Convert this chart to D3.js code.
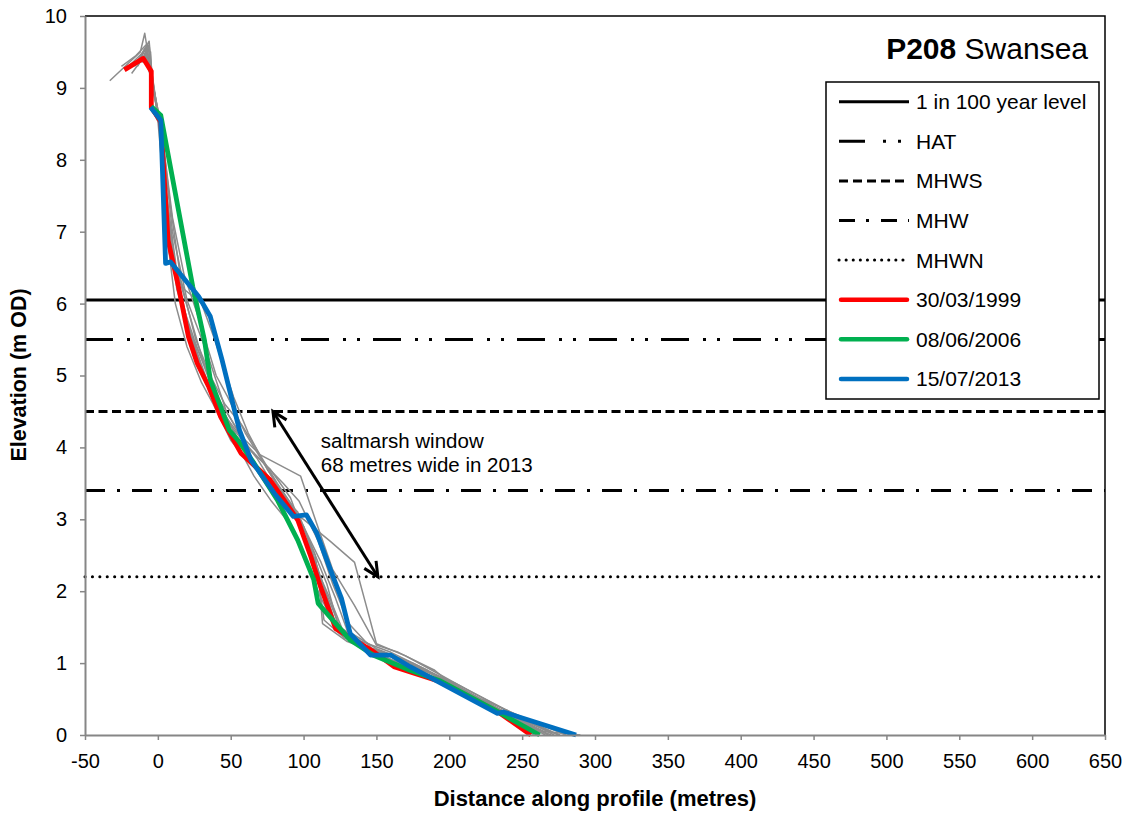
<!DOCTYPE html>
<html><head><meta charset="utf-8">
<script src="https://cdn.jsdelivr.net/npm/d3@7"></script>
<style>body{margin:0;background:#fff}svg{display:block}text{font-family:"Liberation Sans",Arial,sans-serif}</style>
</head><body><svg id="c" width="1128" height="814"></svg>
<script>
const xTicks = [-50,0,50,100,150,200,250,300,350,400,450,500,550,600,650];
const yTicks = [0,1,2,3,4,5,6,7,8,9,10];

const levelNames = ["1 in 100 year level","HAT","MHWS","MHW","MHWN"];
const levelValues = [6.05,5.5,4.5,3.4,2.2];

const surveyNames = ["30/03/1999","08/06/2006","15/07/2013"];
const dist1999 = [-23,-10,-4.5,-4.5,2,7,14,21,27,35,43,57,77,96,105,110,122,148,162,194,235,256];
const elev1999 = [9.25,9.41,9.23,8.73,8.53,6.88,6.25,5.54,5.17,4.84,4.43,3.92,3.55,2.99,2.48,2.16,1.48,1.16,0.95,0.74,0.30,0];
const dist2006 = [-4.5,2,24,32,36,43,49,55,66,82,96,107,110,132,148,173,194,231,262];
const elev2006 = [8.74,8.62,6.23,5.49,4.94,4.57,4.24,4.10,3.78,3.27,2.71,2.16,1.83,1.32,1.11,0.90,0.75,0.35,0];
const dist2013 = [-5,2,5.3,8.7,28,36,44,56,64,80,93,102,109,121,126,132,146,160,173,233,237,262,287];
const elev2013 = [8.73,8.55,6.56,6.58,6.1,5.82,5.22,4.24,3.82,3.36,3.04,3.06,2.81,2.16,1.9,1.41,1.11,1.11,0.95,0.30,0.32,0.16,0];

const greyDist = [
  [-33,-12,-9,-5,-4,1,6,12,20,30,38,50,62,80,100,110,113,130,150,180,210,240,262],
  [-25,-15,-8,-5,-4,1,8,15,25,35,42,55,70,84,98,108,120,135,150,165,190,205,225,245,270],
  [-20,-10,-5,-4,2,10,18,28,40,48,60,75,90,105,115,125,140,160,185,200,220,245,275],
  [-15,-8,-5,-4,1,6,14,22,34,45,58,72,85,95,105,118,128,145,165,190,215,240,265,290],
  [-12,-7,-4,0,8,18,30,39,52,62,75,88,100,112,122,130,150,175,200,228,258],
  [-10,-6,-4,1,5,12,20,32,44,55,68,84,100,118,135,143,150,170,190,215,245,272],
  [-14,-8,-4,2,9,16,26,36,46,58,70,82,92,104,116,124,138,160,188,212,236,266],
  [-18,-9,-4,1,7,13,22,33,42,54,66,78,90,102,112,120,132,155,185,205,235,268],
  [-8,-5,-4,1,4,11,21,31,41,53,64,77,91,103,114,122,136,162,192,222,250,280],
  [-16,-9,-4,1,6,15,24,36,44,56,68,80,96,108,114,128,150,178,210,244,276],
  [-11,-6,-4,2,10,20,34,47,60,74,86,97,110,120,131,147,172,204,238,270]
];
const greyElev = [
  [9.1,9.5,9.76,9.25,8.7,8.55,7.0,6.0,5.4,4.9,4.6,4.1,3.8,3.45,2.9,2.3,1.55,1.3,1.15,0.85,0.55,0.22,0],
  [9.3,9.45,9.6,9.2,8.7,8.5,7.0,6.1,5.5,4.95,4.55,4.2,3.9,3.75,3.6,3.0,2.3,1.8,1.25,1.15,0.9,0.65,0.45,0.2,0],
  [9.3,9.5,9.3,8.7,8.5,7.2,6.4,5.8,5.0,4.7,4.2,3.7,3.2,2.6,2.0,1.5,1.3,1.15,0.9,0.7,0.5,0.25,0],
  [9.35,9.55,9.2,8.7,8.5,7.5,6.3,5.6,4.85,4.5,4.0,3.6,3.4,3.1,2.5,1.9,1.4,1.2,1.05,0.8,0.55,0.3,0.05,0],
  [9.4,9.6,9.2,8.55,6.7,6.2,6.0,5.5,4.7,4.2,3.7,3.3,2.9,2.4,1.9,1.45,1.2,1.0,0.75,0.42,0],
  [9.5,9.65,9.2,8.5,7.6,6.5,5.7,5.0,4.55,4.1,3.7,3.2,3.0,2.7,2.4,1.8,1.27,1.1,0.88,0.6,0.28,0],
  [9.3,9.5,9.0,8.5,7.3,6.3,5.5,5.0,4.6,4.3,3.9,3.5,3.2,2.7,2.1,1.5,1.25,1.05,0.85,0.58,0.33,0],
  [9.2,9.45,9.1,8.5,7.1,6.2,5.6,5.1,4.6,4.05,3.6,3.25,2.95,2.4,1.9,1.6,1.3,1.15,0.88,0.68,0.35,0],
  [9.4,9.5,9.1,8.6,7.9,6.6,5.9,5.2,4.7,4.3,3.95,3.7,3.3,2.65,2.05,1.55,1.28,1.1,0.82,0.5,0.25,0],
  [9.3,9.55,9.15,8.55,7.4,6.1,5.5,4.8,4.45,4.15,3.85,3.45,3.1,2.5,1.6,1.35,1.18,0.95,0.62,0.26,0],
  [9.35,9.6,9.1,8.5,7.0,6.05,5.3,4.5,4.05,3.75,3.5,3.25,2.7,2.1,1.55,1.2,1.0,0.72,0.36,0.05]
];

const arrowStart = [79,4.5], arrowEnd = [151,2.2];
const noteLines = ["saltmarsh window","68 metres wide in 2013"];
const noteAnchor = [111.8,3.99];

const svg = d3.select("#c");
const x = d3.scaleLinear().domain([-50,650]).range([85,1105]);
const y = d3.scaleLinear().domain([0,10]).range([735,16]);

svg.append("path").attr("d",`M${x(-50)},${y(10)}H${x(650)}V${y(0)}`).attr("fill","none").attr("stroke","#000").attr("stroke-width",1.5);

const levelStyles = [
  {dash:null,w:3},
  {dash:"28,14,3,11,3,13",w:3},
  {dash:"9,4.5",w:3},
  {dash:"20,12,3,12",w:3},
  {dash:"0.1,7.3",w:3,cap:"round"}
];
levelValues.forEach((v,i)=>{
  svg.append("line").attr("x1",x(-50)).attr("x2",x(650)).attr("y1",y(v)).attr("y2",y(v))
    .attr("stroke","#000").attr("stroke-width",levelStyles[i].w)
    .attr("stroke-dasharray",levelStyles[i].dash).attr("stroke-linecap",levelStyles[i].cap||"butt");
});

const line = d3.line().x(d=>x(d[0])).y(d=>y(d[1]));
greyDist.forEach((ds,i)=>{
  const pts = ds.map((d,j)=>[d,greyElev[i][j]]);
  svg.append("path").attr("d",line(pts)).attr("fill","none").attr("stroke","#8c8c8c").attr("stroke-width",1.5).attr("stroke-linejoin","round");
});
const colours = ["#ff0000","#00b050","#0070c0"];
[[dist1999,elev1999],[dist2006,elev2006],[dist2013,elev2013]].forEach((s,i)=>{
  const pts = s[0].map((d,j)=>[d,s[1][j]]);
  svg.append("path").attr("d",line(pts)).attr("fill","none").attr("stroke",colours[i]).attr("stroke-width",4.8).attr("stroke-linejoin","round");
});

const xAxis = d3.axisBottom(x).tickValues(xTicks).tickSize(5).tickSizeOuter(0).tickFormat(d=>String(d));
const gx = svg.append("g").attr("transform",`translate(0,${y(0)})`).call(xAxis);
gx.select(".domain").attr("stroke","#868686").attr("stroke-width",2);
gx.selectAll(".tick line").attr("stroke","#868686").attr("stroke-width",1.5);
gx.selectAll(".tick text").attr("font-size",20).attr("fill","#000").attr("y",33).attr("dy",0).attr("font-family","Liberation Sans, Arial");
const yAxis = d3.axisLeft(y).tickValues(yTicks).tickSize(5).tickSizeOuter(0).tickFormat(d=>String(d));
const gy = svg.append("g").attr("transform",`translate(${x(-50)},0)`).call(yAxis);
gy.select(".domain").attr("stroke","#868686").attr("stroke-width",2);
gy.selectAll(".tick line").attr("stroke","#868686").attr("stroke-width",1.5);
gy.selectAll(".tick text").attr("font-size",20).attr("fill","#000").attr("x",-18).attr("font-family","Liberation Sans, Arial");

svg.append("text").attr("x",595).attr("y",806).attr("text-anchor","middle").attr("font-size",22).attr("font-weight","bold").text("Distance along profile (metres)");
svg.append("text").attr("transform","translate(26,375) rotate(-90)").attr("text-anchor","middle").attr("font-size",21.5).attr("font-weight","bold").text("Elevation (m OD)");

const t = svg.append("text").attr("x",1088).attr("y",59).attr("text-anchor","end").attr("font-size",30);
t.append("tspan").attr("font-weight","bold").text("P208");
t.append("tspan").text(" Swansea");

const ax1=x(arrowStart[0]), ay1=y(arrowStart[1]), ax2=x(arrowEnd[0]), ay2=y(arrowEnd[1]);
svg.append("line").attr("x1",ax1).attr("y1",ay1).attr("x2",ax2).attr("y2",ay2).attr("stroke","#000").attr("stroke-width",3);
function head(px,py,qx,qy){
  const ang=Math.atan2(qy-py,qx-px), L=16, a=0.45;
  const p = `M${px+L*Math.cos(ang+a)},${py+L*Math.sin(ang+a)}L${px},${py}L${px+L*Math.cos(ang-a)},${py+L*Math.sin(ang-a)}`;
  svg.append("path").attr("d",p).attr("fill","none").attr("stroke","#000").attr("stroke-width",3).attr("stroke-linejoin","miter");
}
head(ax1,ay1,ax2,ay2); head(ax2,ay2,ax1,ay1);
noteLines.forEach((s,i)=>{
  svg.append("text").attr("x",x(noteAnchor[0])).attr("y",y(noteAnchor[1])+i*24).attr("font-size",20.5).text(s);
});

const lg = svg.append("g");
lg.append("rect").attr("x",826).attr("y",82).attr("width",273).attr("height",317).attr("fill","#fff").attr("stroke","#000").attr("stroke-width",1.5);
const legItems = levelNames.map((n,i)=>({n, s:levelStyles[i], c:"#000"})).concat(surveyNames.map((n,i)=>({n, s:{w:4.5,cap:"round"}, c:colours[i]})));
const legDash = [null,"26,18,3,12,3,20","9,5","16,11,3,12","0.1,7"];
legItems.forEach((it,i)=>{
  const yy = 101.7 + i*39.6;
  lg.append("line").attr("x1",i<5?839:841).attr("x2",i<5?909:907).attr("y1",yy).attr("y2",yy)
    .attr("stroke",it.c).attr("stroke-width",it.s.w).attr("stroke-dasharray",i<5?legDash[i]:null)
    .attr("stroke-linecap",it.s.cap||"butt");
  lg.append("text").attr("x",916).attr("y",yy+7.5).attr("font-size",21).text(it.n);
});
</script></body></html>
